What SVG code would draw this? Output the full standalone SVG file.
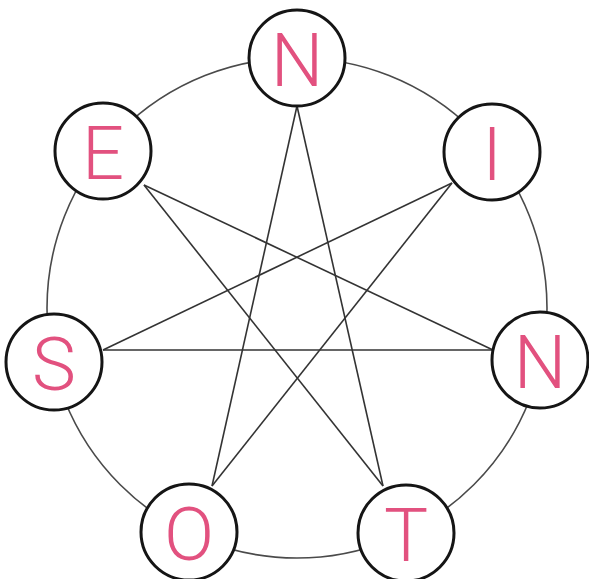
<svg xmlns="http://www.w3.org/2000/svg" width="589" height="579" viewBox="0 0 589 579">
<style>
.ring{fill:none;stroke:#4a4a4a;stroke-width:1.6}
.edge{stroke:#333;stroke-width:1.6;fill:none}
.node circle{fill:#fff;stroke:#151515;stroke-width:3}
.node text{font-family:Roboto,"Open Sans",sans-serif;font-size:74px;fill:#e2517f;text-anchor:middle;font-weight:300}
</style>
<rect width="589" height="579" fill="#fff"/>
<circle class="ring" cx="297" cy="308" r="250"/>
<g id="connectors">
<line class="edge" x1="297" y1="106" x2="383" y2="486"/>
<line class="edge" x1="383" y1="486" x2="144" y2="185"/>
<line class="edge" x1="144" y1="185" x2="493" y2="350"/>
<line class="edge" x1="493" y1="350" x2="103" y2="350"/>
<line class="edge" x1="103" y1="350" x2="452" y2="183"/>
<line class="edge" x1="452" y1="183" x2="212" y2="486"/>
<line class="edge" x1="212" y1="486" x2="297" y2="106"/>
</g>
<g id="node-N-top" class="node"><circle cx="297" cy="58" r="48"/><text x="297" y="86">N</text></g>
<g id="node-I" class="node"><circle cx="492" cy="152" r="48"/><text x="492" y="180">I</text></g>
<g id="node-N-right" class="node"><circle cx="540" cy="360" r="48"/><text x="540" y="388">N</text></g>
<g id="node-T" class="node"><circle cx="406" cy="533" r="48"/><text x="406" y="561">T</text></g>
<g id="node-O" class="node"><circle cx="189" cy="532" r="48"/><text x="189" y="560">O</text></g>
<g id="node-S" class="node"><circle cx="54" cy="362" r="48"/><text x="54" y="390">S</text></g>
<g id="node-E" class="node"><circle cx="103" cy="151" r="48"/><text x="103" y="179">E</text></g>
</svg>
